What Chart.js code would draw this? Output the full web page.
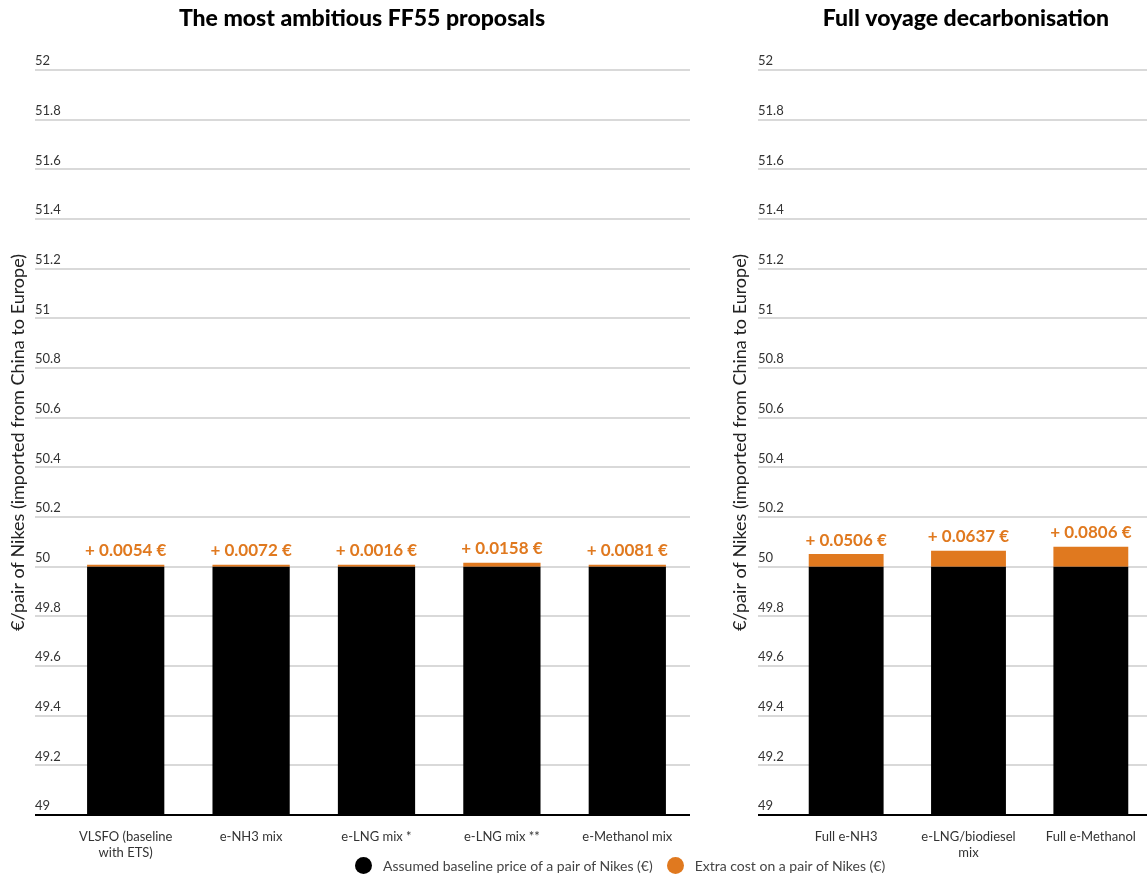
<!DOCTYPE html>
<html>
<head>
<meta charset="utf-8">
<script src="https://cdn.jsdelivr.net/npm/chart.js@4.4.1/dist/chart.umd.min.js"></script>
<style>
  html, body { margin: 0; padding: 0; background: #fff; }
  body { width: 1147px; height: 877px; overflow: hidden; position: relative; font-family: Lato, sans-serif; }
  #wrapA { position: absolute; left: 0; top: 0; width: 700px; height: 877px; }
  #wrapB { position: absolute; left: 700px; top: 0; width: 460px; height: 877px; }
  #legend { position: absolute; top: 857px; left: 355px; display: flex; align-items: center; font-size: 14px; color: #444; white-space: nowrap; }
  .dot { width: 17px; height: 17px; border-radius: 50%; display: inline-block; margin-right: 11px; }
  .item { display: flex; align-items: center; margin-right: 14px; }
</style>
</head>
<body>
<div id="wrapA"><canvas id="chartA" width="700" height="877"></canvas></div>
<div id="wrapB"><canvas id="chartB" width="460" height="877"></canvas></div>
<div id="legend">
  <div class="item"><span class="dot" style="background:#000"></span><span>Assumed baseline price of a pair of Nikes (€)</span></div>
  <div class="item"><span class="dot" style="background:#E0791F"></span><span>Extra cost on a pair of Nikes (€)</span></div>
</div>
<script>
// ---- data ----
const titleA = "The most ambitious FF55 proposals";
const titleB = "Full voyage decarbonisation";
const yTitle = "€/pair of Nikes (imported from China to Europe)";
const seriesNames = ["Assumed baseline price of a pair of Nikes (€)", "Extra cost on a pair of Nikes (€)"];

const categoriesA = [["VLSFO (baseline", "with ETS)"], "e-NH3 mix", "e-LNG mix *", "e-LNG mix **", "e-Methanol mix"];
const baselineA = [50, 50, 50, 50, 50];
const extraA = [0.0054, 0.0072, 0.0016, 0.0158, 0.0081];

const categoriesB = ["Full e-NH3", ["e-LNG/biodiesel", "mix"], "Full e-Methanol"];
const baselineB = [50, 50, 50];
const extraB = [0.0506, 0.0637, 0.0806];

const yTicks = [49, 49.2, 49.4, 49.6, 49.8, 50, 50.2, 50.4, 50.6, 50.8, 51, 51.2, 51.4, 51.6, 51.8, 52];
const yTickLabels = ["49", "49.2", "49.4", "49.6", "49.8", "50", "50.2", "50.4", "50.6", "50.8", "51", "51.2", "51.4", "51.6", "51.8", "52"];

// ---- style ----
const ORANGE = '#E0791F';
const FONT = 'Lato, "Noto Sans", sans-serif';

const valueLabels = {
  id: 'valueLabels',
  afterDatasetsDraw(chart) {
    const ctx = chart.ctx;
    const meta = chart.getDatasetMeta(1);
    const data = chart.data.datasets[1].data;
    ctx.save();
    ctx.font = 'bold 17px ' + FONT;
    ctx.fillStyle = ORANGE;
    ctx.textAlign = 'center';
    ctx.textBaseline = 'middle';
    meta.data.forEach((bar, i) => {
      ctx.fillText('+ ' + data[i].toFixed(4) + ' €', bar.x, bar.y - 14);
    });
    ctx.restore();
  }
};

const panelTitle = {
  id: 'panelTitle',
  afterDraw(chart, args, opts) {
    const ctx = chart.ctx;
    ctx.save();
    ctx.font = '900 23px ' + FONT;
    ctx.fillStyle = '#000';
    ctx.textAlign = 'center';
    ctx.textBaseline = 'middle';
    ctx.fillText(opts.text, opts.x, opts.y);
    ctx.restore();
  }
};

function makeChart(id, cats, base, extra, title, titleX, padL, padR, tickLen, barPct) {
  return new Chart(document.getElementById(id), {
    type: 'bar',
    data: {
      labels: cats,
      datasets: [
        { label: seriesNames[0], data: base, backgroundColor: '#000', borderWidth: 0,
          barPercentage: barPct, categoryPercentage: 1 },
        { label: seriesNames[1], data: extra, backgroundColor: ORANGE, borderWidth: 0,
          barPercentage: barPct, categoryPercentage: 1, minBarLength: 2 }
      ]
    },
    plugins: [valueLabels, panelTitle],
    options: {
      responsive: false,
      devicePixelRatio: 1,
      animation: false,
      layout: { padding: { left: padL, right: padR, top: 70, bottom: 17 } },
      plugins: {
        legend: { display: false },
        tooltip: { enabled: false },
        title: { display: false },
        panelTitle: { text: title, x: titleX, y: 19 }
      },
      scales: {
        x: {
          stacked: true,
          grid: { display: false },
          border: { display: false },
          ticks: { color: '#333', font: { family: FONT, size: 13 }, padding: 6, maxRotation: 0, autoSkip: false },
          afterFit(s) { s.height = 45; }
        },
        y: {
          stacked: true,
          min: 49, max: 52,
          afterBuildTicks(s) { s.ticks = yTicks.map(v => ({ value: v })); },
          border: { display: false },
          grid: {
            color: c => (c.tick && c.tick.value === 49) ? '#000' : '#d9d9d9',
            tickColor: c => (c.tick && c.tick.value === 49) ? '#000' : '#d9d9d9',
            lineWidth: 2, tickWidth: 2, drawTicks: true, tickLength: tickLen
          },
          ticks: {
            mirror: true,
            padding: -tickLen,
            labelOffset: -9,
            color: '#333',
            font: { family: FONT, size: 13 },
            callback: (v, i) => yTickLabels[yTicks.indexOf(v)] ?? String(v)
          },
          title: {
            display: true, text: yTitle, color: '#222',
            font: { family: FONT, size: 18 },
            padding: { top: 0, bottom: 0 }
          },
          afterFit(s) { s.width = 56; }
        }
      }
    }
  });
}

makeChart('chartA', categoriesA, baselineA, extraA, titleA, 362, 7, 10, 28, 0.616);
makeChart('chartB', categoriesB, baselineB, extraB, titleB, 266, 29, 8, 27, 0.612);
</script>
</body>
</html>
